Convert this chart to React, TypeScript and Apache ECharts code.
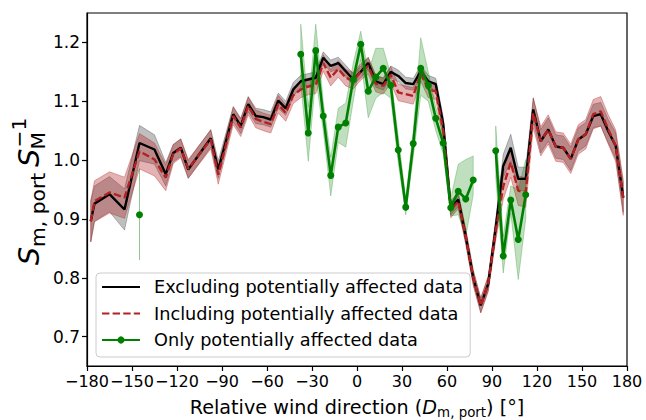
import React, { useEffect, useRef } from "react";
import * as echarts from "echarts";

// Relative wind direction bins (deg) for the "excluding"/"including" curves
const dirAll = [-177.5, -175, -165, -155, -145, -135, -127.5, -122.5, -117.5, -112.5, -97.5, -92.5,
  -82.5, -77.5, -72.5, -67.5, -62.5, -57.5, -52.5, -47.5, -42.5, -37.5, -32.5, -27.5, -22.5, -17.5,
  -12.5, -7.5, -2.5, 2.5, 7.5, 12.5, 17.5, 22.5, 27.5, 32.5, 37.5, 42.5, 47.5, 52.5, 57.5, 62.5,
  67.5, 72.5, 77.5, 82.5, 87.5, 92.5, 97.5, 102.5, 107.5, 112.5, 117.5, 122.5, 127.5, 132.5, 137.5,
  142.5, 147.5, 152.5, 157.5, 162.5, 167.5, 172.5, 177.5];

const exclVal = [0.896, 0.926, 0.942, 0.916, 1.029, 1.018, 0.976, 1.012, 1.021, 0.984, 1.037, 0.984,
  1.078, 1.058, 1.095, 1.075, 1.073, 1.069, 1.101, 1.088, 1.12, 1.134, 1.137, 1.14, 1.174, 1.16,
  1.165, 1.151, 1.137, 1.15, 1.165, 1.134, 1.129, 1.15, 1.143, 1.131, 1.129, 1.151, 1.134, 1.129, 1.061, 0.919,
  0.933, 0.87, 0.8, 0.753, 0.79, 0.885, 0.99, 1.021, 0.968, 0.968, 1.086, 1.032, 1.052, 1.023, 1.021,
  1.002, 1.035, 1.044, 1.075, 1.078, 1.049, 1.024, 0.936];

const exclErr = [0.035, 0.03, 0.03, 0.035, 0.03, 0.025, 0.02, 0.015, 0.015, 0.015, 0.015, 0.015,
  0.013, 0.013, 0.013, 0.013, 0.013, 0.013, 0.013, 0.012, 0.012, 0.01, 0.01, 0.01, 0.01, 0.01,
  0.01, 0.01, 0.01, 0.01, 0.01, 0.01, 0.01, 0.01, 0.01, 0.01, 0.01, 0.01, 0.01, 0.01, 0.012, 0.012,
  0.012, 0.012, 0.012, 0.012, 0.012, 0.015, 0.02, 0.023, 0.02, 0.02, 0.02, 0.02, 0.02, 0.02, 0.02,
  0.02, 0.02, 0.02, 0.02, 0.02, 0.02, 0.022, 0.025];

const inclVal = [0.896, 0.93, 0.945, 0.936, 1.015, 1.001, 0.97, 1.01, 1.02, 0.985, 1.035, 0.975,
  1.075, 1.055, 1.092, 1.07, 1.065, 1.061, 1.095, 1.08, 1.11, 1.12, 1.125, 1.127, 1.165, 1.14,
  1.155, 1.14, 1.135, 1.15, 1.16, 1.13, 1.126, 1.145, 1.115, 1.112, 1.109, 1.148, 1.12, 1.117, 1.05, 0.915,
  0.93, 0.87, 0.8, 0.753, 0.79, 0.88, 0.955, 0.996, 0.948, 0.945, 1.08, 1.032, 1.052, 1.023, 1.021,
  1.002, 1.035, 1.044, 1.078, 1.083, 1.052, 1.024, 0.936];

const inclErr = [0.035, 0.035, 0.035, 0.035, 0.03, 0.028, 0.022, 0.016, 0.016, 0.016, 0.016, 0.016,
  0.015, 0.015, 0.015, 0.015, 0.015, 0.015, 0.015, 0.014, 0.014, 0.014, 0.014, 0.014, 0.014, 0.014,
  0.014, 0.014, 0.014, 0.014, 0.014, 0.014, 0.014, 0.014, 0.014, 0.014, 0.014, 0.014, 0.014, 0.014, 0.014, 0.013,
  0.013, 0.013, 0.013, 0.013, 0.013, 0.016, 0.022, 0.025, 0.025, 0.025, 0.025, 0.025, 0.025, 0.025, 0.025,
  0.025, 0.025, 0.025, 0.025, 0.025, 0.025, 0.027, 0.03];

// Only potentially affected data (null = gap)
const onlyDir = [-145, -90, -37.5, -32.5, -27.5, -22.5, -17.5, -12.5, -7.5, -2.5, 2.5, 7.5, 12.5, 17.5,
  22.5, 27.5, 32.5, 37.5, 42.5, 47.5, 52.5, 57.5, 62.5, 67.5, 72.5, 77.5, 85, 92.5, 97.5, 102.5, 107.5, 112.5];
const onlyVal = [0.907, null, 1.18, 1.046, 1.186, 1.075, 0.974, 1.056, 1.063, 1.137, 1.197, 1.117, 1.141, 1.156,
  1.127, 1.017, 0.92, 1.028, 1.156, 1.127, 1.071, 1.029, 0.919, 0.947, 0.934, 0.966, null, 1.016, 0.837, 0.932, 0.865, 0.941];
const onlyLo = [0.83, null, 1.13, 0.998, 1.14, 1.05, 0.939, 1.03, 1.022, 1.1, 1.171, 1.072, 1.105, 1.115,
  1.105, 0.995, 0.907, 1.005, 1.11, 1.1, 1.05, 1.01, 0.905, 0.907, 0.87, 0.941, null, 0.97, 0.808, 0.91, 0.797, 0.9];
const onlyHi = [0.985, null, 1.231, 1.09, 1.231, 1.1, 1.005, 1.088, 1.097, 1.165, 1.219, 1.15, 1.19, 1.19,
  1.145, 1.04, 0.935, 1.05, 1.208, 1.15, 1.09, 1.045, 0.935, 0.993, 1.001, 1.007, null, 1.058, 0.87, 0.956, 0.95, 1.001];

const yTicks = [0.7, 0.8, 0.9, 1.0, 1.1, 1.2];

const NAME_EX = "Excluding potentially affected data";
const NAME_IN = "Including potentially affected data";
const NAME_ON = "Only potentially affected data";

const FONT = "'DejaVu Sans', sans-serif";

function bandSeries(dir: number[], lo: (number | null)[], hi: (number | null)[], color: string, z: number) {
  return {
    type: "custom",
    coordinateSystem: "cartesian2d",
    silent: true,
    z,
    data: [[dir[0], lo[0]]],
    renderItem: (_params: any, api: any) => {
      const segs: number[][] = [];
      let cur: number[] = [];
      for (let i = 0; i < dir.length; i++) {
        if (lo[i] == null || hi[i] == null) {
          if (cur.length) segs.push(cur);
          cur = [];
        } else cur.push(i);
      }
      if (cur.length) segs.push(cur);
      const children = segs.map((seg) => {
        const top = seg.map((i) => api.coord([dir[i], hi[i]]));
        const bot = seg.slice().reverse().map((i) => api.coord([dir[i], lo[i]]));
        return {
          type: "polygon",
          shape: { points: top.concat(bot) },
          style: { fill: color, stroke: color, lineWidth: 1 },
        };
      });
      return { type: "group", children };
    },
  };
}

function measure(text: string, font: string) {
  const c = document.createElement("canvas").getContext("2d") as CanvasRenderingContext2D;
  c.font = font;
  return c.measureText(text).width;
}

function yLabelGraphic() {
  const F = 29, f = 20.3;
  const fMain = `italic ${F}px 'DejaVu Sans'`;
  const fSub = `${f}px 'DejaVu Sans'`;
  const wS = measure("S", fMain);
  const wSub = measure("m, port", fSub);
  const wM = measure("M", fSub);
  const wSup = measure("\u22121", fSub);
  const gap = 0.2 * F;
  const x2 = wS + wSub + gap;
  const total = x2 + wS + Math.max(wM, wSup + 2);
  const o = -total / 2;
  const subY = 9.5, supY = -9.5;
  const common = { fill: "#000", verticalAlign: "middle", align: "left" };
  return {
    type: "group",
    x: 28.5,
    y: 191,
    rotation: Math.PI / 2,
    children: [
      { type: "text", x: o, y: 0, style: { ...common, text: "S", font: fMain } },
      { type: "text", x: o + wS, y: subY, style: { ...common, text: "m, port", font: fSub } },
      { type: "text", x: o + x2, y: 0, style: { ...common, text: "S", font: fMain } },
      { type: "text", x: o + x2 + wS - 1, y: subY, style: { ...common, text: "M", font: fSub } },
      { type: "text", x: o + x2 + wS + 1, y: supY, style: { ...common, text: "\u22121", font: fSub } },
    ],
  };
}

function xLabelGraphic() {
  const F = 19.2, f = 13.4;
  const fN = `${F}px 'DejaVu Sans'`;
  const fI = `italic ${F}px 'DejaVu Sans'`;
  const fS = `${f}px 'DejaVu Sans'`;
  const p1 = "Relative wind direction (";
  const p4 = ") [\u00b0]";
  const w1 = measure(p1, fN), wD = measure("D", fI), wSub = measure("m, port", fS), w4 = measure(p4, fN);
  const total = w1 + wD + wSub + w4;
  const o = -total / 2;
  const common = { fill: "#000", verticalAlign: "middle", align: "left" };
  return {
    type: "group",
    x: 357,
    y: 407.5,
    children: [
      { type: "text", x: o, y: 0, style: { ...common, text: p1, font: fN } },
      { type: "text", x: o + w1, y: 0, style: { ...common, text: "D", font: fI } },
      { type: "text", x: o + w1 + wD, y: 4.5, style: { ...common, text: "m, port", font: fS } },
      { type: "text", x: o + w1 + wD + wSub, y: 0, style: { ...common, text: p4, font: fN } },
    ],
  };
}

export default function App() {
  const ref = useRef<HTMLDivElement>(null);
  useEffect(() => {
    document.body.style.margin = "0";
    if (!ref.current) return;
    const chart = echarts.init(ref.current, undefined, { renderer: "svg" });
    const exLo = exclVal.map((v, i) => v - exclErr[i]);
    const exHi = exclVal.map((v, i) => v + exclErr[i]);
    const inLo = inclVal.map((v, i) => v - inclErr[i]);
    const inHi = inclVal.map((v, i) => v + inclErr[i]);
    const hidden = { color: "rgba(0,0,0,0)", borderColor: "rgba(0,0,0,0)", borderWidth: 0, opacity: 0 };
    chart.setOption({
      animation: false,
      grid: { left: 87, right: 19, top: 13, bottom: 54, show: true, borderColor: "#000", borderWidth: 1.2, backgroundColor: "transparent" },
      xAxis: {
        type: "value",
        min: -180,
        max: 180,
        interval: 30,
        axisLine: { onZero: false, lineStyle: { color: "#000", width: 1.2 } },
        axisTick: { inside: false, length: 5, lineStyle: { color: "#000", width: 1.2 } },
        axisLabel: {
          color: "#000", fontSize: 16, fontFamily: FONT, margin: 7, showMinLabel: true, showMaxLabel: true,
          hideOverlap: false,
          formatter: (v: number) => (v < 0 ? "\u2212" + Math.abs(v) : String(v)),
        },
        splitLine: { show: false },
      },
      yAxis: {
        type: "value",
        min: 0.65,
        max: 1.25,
        axisLine: { show: true, onZero: false, lineStyle: { color: "#000", width: 1.2 } },
        axisTick: { show: true, inside: false, length: 5, customValues: yTicks, lineStyle: { color: "#000", width: 1.2 } },
        axisLabel: {
          color: "#000", fontSize: 17, fontFamily: FONT, margin: 7, customValues: yTicks,
          formatter: (v: number) => v.toFixed(1),
        },
        splitLine: { show: false },
      },
      legend: {
        orient: "vertical",
        left: 96,
        top: 273,
        padding: [4, 7, 7, 5],
        itemGap: 6.5,
        itemWidth: 38,
        itemHeight: 9,
        backgroundColor: "rgba(255,255,255,0.8)",
        borderColor: "#cccccc",
        borderWidth: 1,
        borderRadius: 4,
        textStyle: { fontSize: 17.7, fontFamily: FONT, color: "#000", lineHeight: 20, padding: [0, 0, 0, 9] },
        data: [
          { name: NAME_EX, itemStyle: hidden },
          { name: NAME_IN, itemStyle: hidden },
          { name: NAME_ON },
        ],
      },
      graphic: [yLabelGraphic(), xLabelGraphic()],
      series: [
        bandSeries(dirAll, exLo, exHi, "rgba(0,0,0,0.25)", 1),
        bandSeries(dirAll, inLo, inHi, "rgba(178,34,34,0.35)", 1),
        bandSeries(onlyDir, onlyLo, onlyHi, "rgba(0,128,0,0.25)", 1),
        {
          type: "line",
          name: NAME_EX,
          data: dirAll.map((d, i) => [d, exclVal[i]]),
          symbol: "none",
          showSymbol: false,
          lineStyle: { color: "#000", width: 2.4 },
          itemStyle: { color: "#000" },
          z: 3,
        },
        {
          type: "line",
          name: NAME_IN,
          data: dirAll.map((d, i) => [d, inclVal[i]]),
          symbol: "none",
          showSymbol: false,
          lineStyle: { color: "#b22222", width: 2.4, type: [7.4, 3.2] },
          itemStyle: { color: "#b22222" },
          z: 4,
        },
        {
          type: "line",
          name: NAME_ON,
          data: onlyDir.map((d, i) => [d, onlyVal[i] == null ? "-" : onlyVal[i]]),
          symbol: "circle",
          symbolSize: 7,
          showSymbol: true,
          connectNulls: false,
          lineStyle: { color: "#008000", width: 2.6 },
          itemStyle: { color: "#008000", borderWidth: 0 },
          z: 5,
        },
      ],
    });
    return () => chart.dispose();
  }, []);
  return <div ref={ref} style={{ width: 646, height: 420 }} />;
}
